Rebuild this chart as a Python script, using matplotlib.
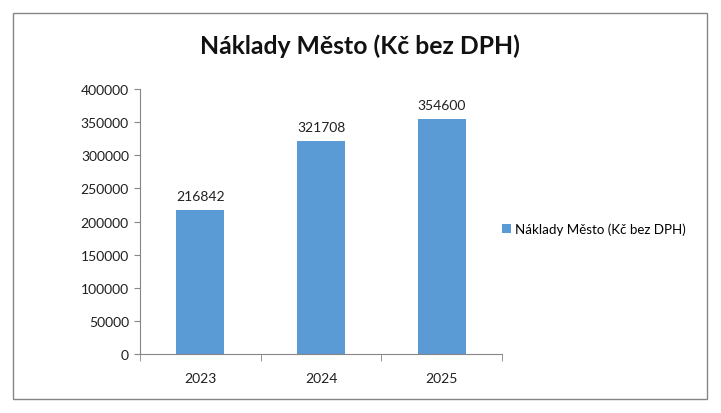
import matplotlib.pyplot as plt
from matplotlib.patches import Rectangle

years = ["2023", "2024", "2025"]
costs = [216842, 321708, 354600]
series_name = "Náklady Město (Kč bez DPH)"

plt.rcParams["font.family"] = ["Lato", "DejaVu Sans"]

W, H = 721, 414
fig = plt.figure(figsize=(W / 100, H / 100), dpi=100)

# outer chart border
fig.patches.append(Rectangle((13 / W, 1 - 400 / H), (707 - 13) / W, (400 - 14) / H,
                             transform=fig.transFigure, fill=False,
                             edgecolor="#868686", linewidth=1.0))

ax = fig.add_axes([140 / W, 1 - 355 / H, (502 - 140) / W, (355 - 90) / H])

blue = "#5B9BD5"
axis_col = "#868686"
x = list(range(len(years)))
bars = ax.bar(x, costs, width=0.4, color=blue, label=series_name)

for xi, v in zip(x, costs):
    ax.annotate(str(v), (xi, v), xytext=(0, 6), textcoords="offset points",
                ha="center", va="bottom", fontsize=10, color="#202020")

ax.set_xlim(-0.5, 2.5)
ax.set_ylim(0, 400000)
ax.set_yticks(range(0, 400001, 50000))
ax.set_yticklabels([str(v) for v in range(0, 400001, 50000)], fontsize=10,
                   color="#202020")

ax.set_xticks(x)
ax.set_xticklabels(years, fontsize=10, color="#202020")
ax.tick_params(axis="x", length=0, pad=13)
ax.set_xticks([-0.5, 0.5, 1.5, 2.5], minor=True)
ax.tick_params(axis="x", which="minor", length=5, color=axis_col)
ax.tick_params(axis="y", length=4, color=axis_col, pad=4)

for side in ["top", "right"]:
    ax.spines[side].set_visible(False)
for side in ["left", "bottom"]:
    ax.spines[side].set_color(axis_col)

fig.text(360 / W, 1 - 46 / H, series_name, ha="center", va="center",
         fontsize=17.8, fontweight="bold", color="#111111")

fig.legend(handles=[bars], loc="center left",
           bbox_to_anchor=(490 / W, 1 - 230 / H), frameon=False,
           fontsize=9.6, handlelength=0.7, handleheight=0.7,
           handletextpad=0.3)

fig.savefig("out.png", dpi=100)
